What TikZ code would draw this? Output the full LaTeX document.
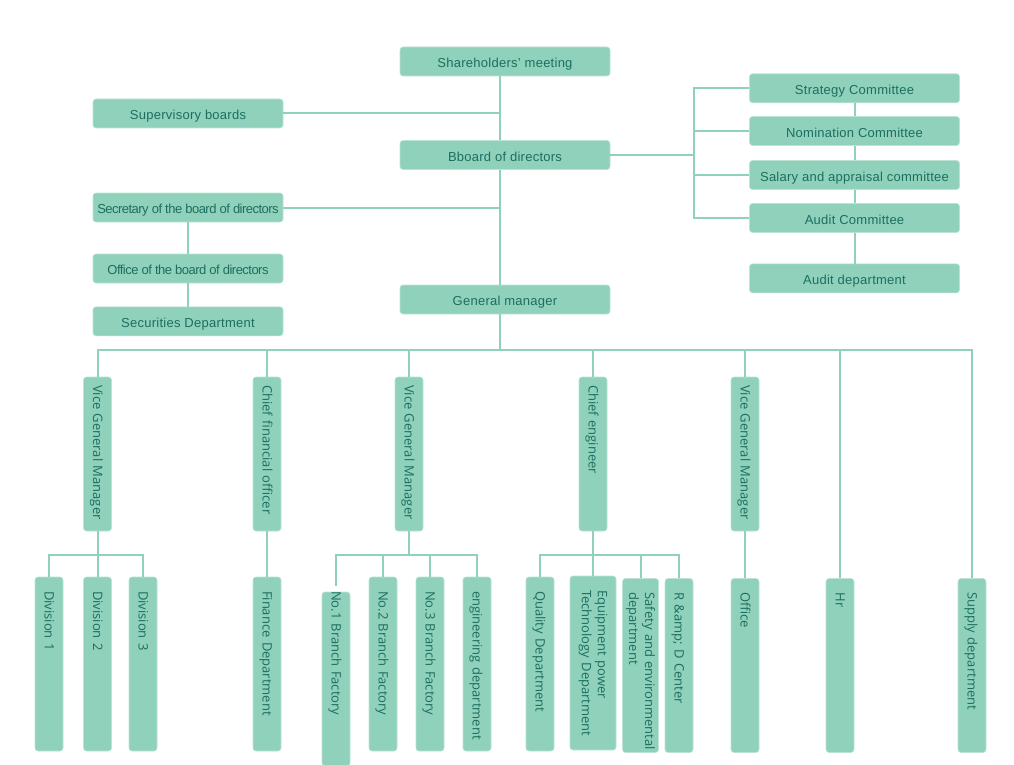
\documentclass[tikz,border=0pt]{standalone}
\usepackage{fontspec}
\setmainfont{Liberation Sans}
\newfontfamily\vertfont{Open Sans}
\usepackage{xcolor}
\definecolor{boxfill}{HTML}{8FD1BA}
\definecolor{boxtext}{HTML}{1D6E61}

\begin{document}
\begin{tikzpicture}[x=1pt,y=-1pt]
			\tikzstyle{hbox}=[
			rectangle,
			rounded corners=3pt,
			fill=boxfill,
			draw=boxfill!60!white,
			line width=0.6pt,
			text=boxtext,
			font=\fontsize{13}{15}\selectfont\addfontfeature{LetterSpace=2},
			minimum width=210pt,
			minimum height=29pt,
			inner sep=0pt,
			text height=12pt,
			text depth=0pt
			]
			\tikzstyle{leftbox}=[hbox, minimum width=190pt]
			\tikzstyle{narrow}=[
			font=\fontsize{13}{15}\selectfont\addfontfeature{LetterSpace=-4}
			]
			\tikzstyle{vertbox}=[
			rectangle,
			rounded corners=3pt,
			fill=boxfill,
			draw=boxfill!60!white,
			line width=0.6pt,
			text=boxtext,
			font=\vertfont\fontsize{13}{16}\selectfont,
			rotate=-90,
			minimum height=28pt,
			inner sep=0pt,
			align=left,
			text height=9pt,
			text depth=0pt
			]
			\tikzstyle{midbox}=[vertbox, minimum width=154pt, text width=138pt]
			\tikzstyle{lowbox}=[vertbox, minimum width=174pt, text width=146pt]
			\tikzstyle{twoline}=[text height={}, text depth={}]
			\tikzstyle{link}=[draw=boxfill, line width=2pt]
			\useasboundingbox (0,0) rectangle (1014,765);
			\fill[white] (0,0) rectangle (1014,765);
			%
			\node[hbox] (share) at (505,61.5) {Shareholders' meeting};
			\node[leftbox] (supv) at (188,113.5) {Supervisory boards};
			\node[hbox] (board) at (505,155) {Bboard of directors};
			\node[leftbox, narrow] (secr) at (188,207.5) {Secretary of the board of directors};
			\node[leftbox, narrow] (bdoff) at (188,268.5) {Office of the board of directors};
			\node[leftbox] (secu) at (188,321.3) {Securities Department};
			\node[hbox] (gm) at (505,299.5) {General manager};
			\node[hbox] (strat) at (854.5,88.3) {Strategy Committee};
			\node[hbox] (nom) at (854.5,131) {Nomination Committee};
			\node[hbox] (sal) at (854.5,175) {Salary and appraisal committee};
			\node[hbox] (audc) at (854.5,218) {Audit Committee};
			\node[hbox] (auddep) at (854.5,278.3) {Audit department};
			%
			\node[midbox] (vgm1) at (97.5,454) {Vice General Manager};
			\node[midbox] (cfo) at (267,454) {Chief financial officer};
			\node[midbox] (vgm2) at (409,454) {Vice General Manager};
			\node[midbox] (ce) at (593,454) {Chief engineer};
			\node[midbox] (vgm3) at (745,454) {Vice General Manager};
			%
			\node[lowbox] (div1) at (49,664) {Division 1};
			\node[lowbox] (div2) at (97.5,664) {Division 2};
			\node[lowbox] (div3) at (143,664) {Division 3};
			\node[lowbox] (fin) at (267,664) {Finance Department};
			\node[lowbox] (nf1) at (336,679) {\hspace*{-15pt}No.1 Branch Factory};
			\node[lowbox] (nf2) at (383,664) {No.2 Branch Factory};
			\node[lowbox] (nf3) at (430,664) {No.3 Branch Factory};
			\node[lowbox] (eng) at (477,664) {\mbox{engineering department}};
			\node[lowbox] (qual) at (540,664) {Quality Department};
			\node[lowbox, twoline, minimum height=46pt] (equip) at (593,663) {Equipment power\\\mbox{Technology Department}};
			\node[lowbox, twoline, minimum height=36pt] (safe) at (640.5,665.5) {\mbox{Safety and environmental}\\department};
			\node[lowbox] (rd) at (679,665.5) {R \&amp; D Center};
			\node[lowbox] (off) at (745,665.5) {Office};
			\node[lowbox] (hr) at (840,665.5) {Hr};
			\node[lowbox] (sup) at (972,665.5) {Supply department};
			%
			\coordinate (trunk) at (500,350);
			\coordinate (fork) at (694,156);
			\coordinate (sub) at (0,554.5);
			\draw[link] (share.south -| trunk) -- (board.north -| trunk);
			\draw[link] (board.south -| trunk) -- (gm.north -| trunk);
			\draw[link] (gm.south -| trunk) -- (trunk);
			\draw[link] (supv.east) -- (supv.east -| trunk);
			\draw[link] (secr.east) -- (secr.east -| trunk);
			\draw[link] (secr) -- (bdoff);
			\draw[link] (bdoff) -- (secu);
			\draw[link] (board.east) -- (board.east -| fork);
			\draw[link] (strat.west) -| (audc.west -| fork) -- (audc.west);
			\draw[link] (nom.west) -- (nom.west -| fork);
			\draw[link] (sal.west) -- (sal.west -| fork);
			\draw[link] (strat) -- (nom);
			\draw[link] (nom) -- (sal);
			\draw[link] (sal) -- (audc);
			\draw[link] (audc) -- (auddep);
			%
			\draw[link] (vgm1.west) |- (sup.west |- trunk) -- (sup.west);
			\foreach \n in {cfo,vgm2,ce,vgm3,hr}
			\draw[link] (\n.west |- trunk) -- (\n.west);
			%
			\draw[link] (vgm1.east) -- (div2.west);
			\draw[link] (div1.west) |- (div3.west |- sub) -- (div3.west);
			\draw[link] (cfo.east) -- (fin.west);
			\draw[link] (vgm2.east) -- (vgm2.east |- sub);
			\draw[link, shorten <=6pt] (nf1.west) |- (eng.west |- sub) -- (eng.west);
			\draw[link] (nf2.west |- sub) -- (nf2.west);
			\draw[link] (nf3.west |- sub) -- (nf3.west);
			\draw[link] (ce.east) -- (equip.west);
			\draw[link] (qual.west) |- (rd.west |- sub) -- (rd.west);
			\draw[link] (safe.west |- sub) -- (safe.west);
			\draw[link] (vgm3.east) -- (off.west);
		\end{tikzpicture}
\end{document}
